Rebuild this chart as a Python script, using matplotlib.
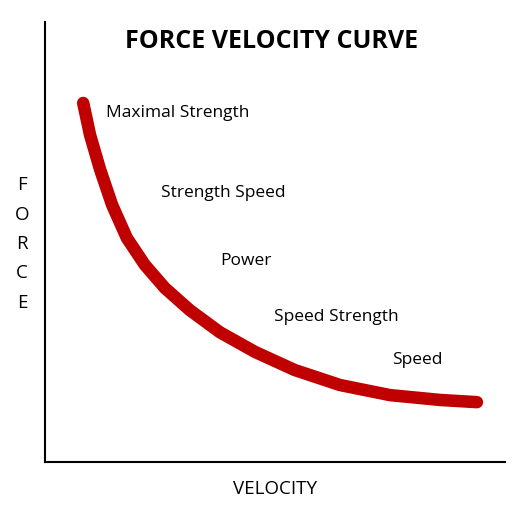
import matplotlib
matplotlib.use("Agg")
import matplotlib.pyplot as plt

W, H = 516, 507
curve_x = [8.3, 9.8, 12.0, 14.6, 17.8, 21.7, 26.1, 31.5, 38.0, 45.7, 54.3, 64.1, 75.0, 85.9, 93.9]
curve_y = [81.6, 74.3, 66.4, 58.4, 50.9, 44.8, 39.5, 34.5, 29.5, 25.0, 20.9, 17.5, 15.2, 14.1, 13.6]
labels = ["Maximal Strength", "Strength Speed", "Power", "Speed Strength", "Speed"]
label_px = [(106, 113), (161, 193), (220, 261), (274, 317), (392, 360)]
ylabel_letters = list("FORCE")

plt.rcParams['font.family'] = ['Open Sans', 'DejaVu Sans']
fig = plt.figure(figsize=(W/100, H/100), dpi=100)
ax = fig.add_axes([45/W, (H-462)/H, 460/W, 440/H])
ax.plot(curve_x, curve_y, color='#c00000', lw=9, solid_capstyle='round', solid_joinstyle='round')
ax.set_xlim(0, 100); ax.set_ylim(0, 100)
ax.set_xticks([]); ax.set_yticks([])
for s in ['top', 'right']:
    ax.spines[s].set_visible(False)
for s in ['left', 'bottom']:
    ax.spines[s].set_linewidth(1.5)

for t, (px, py) in zip(labels, label_px):
    fig.text(px/W, 1-py/H, t, fontsize=12.5, ha='left', va='center')
fig.text(272/W, 1-42/H, "FORCE VELOCITY CURVE", fontsize=18, fontweight='bold', ha='center', va='center')
fig.text(275/W, 1-489/H, "VELOCITY", fontsize=13.5, ha='center', va='center')
for i, c in enumerate(ylabel_letters):
    fig.text(22/W, 1-(185+29.5*i)/H, c, fontsize=13.5, ha='center', va='center')
fig.savefig("out.png", dpi=100)
